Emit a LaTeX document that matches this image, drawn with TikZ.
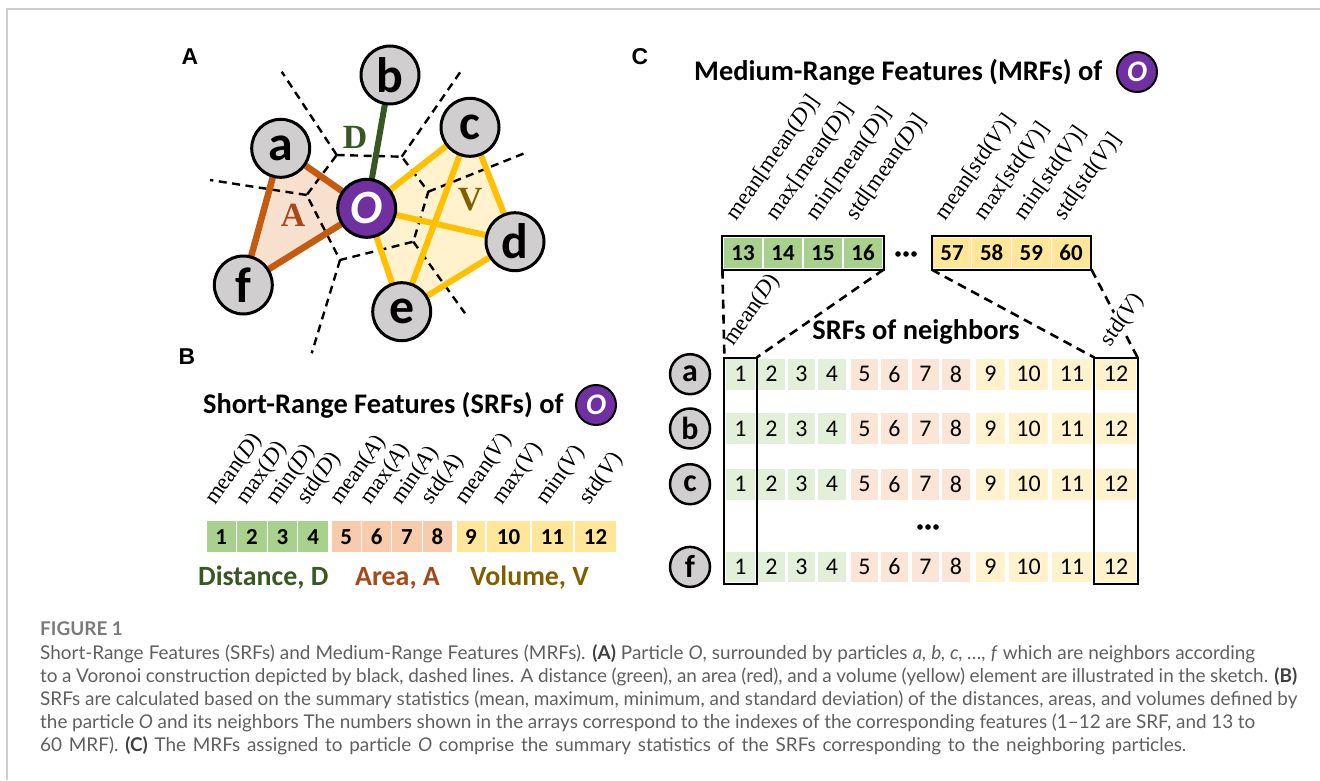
\documentclass[tikz,border=0pt]{standalone}
\usepackage{fontspec}
\setmainfont{Carlito}
\newfontfamily\lblfont{Liberation Serif}
\newfontfamily\capfont{Lato}
\newfontfamily\panelfont{Liberation Sans}
\pgfdeclarelayer{bg}
\pgfsetlayers{bg,main}

\definecolor{partgray}{HTML}{D0CECE}
\definecolor{opurple}{HTML}{7030A0}
\definecolor{areaedge}{HTML}{C55A11}
\definecolor{areafill}{HTML}{F8E0CF}
\definecolor{voledge}{HTML}{FFC000}
\definecolor{volfill}{HTML}{FFF2CC}
\definecolor{distedge}{HTML}{385723}
\definecolor{dtext}{HTML}{385723}
\definecolor{atext}{HTML}{A5481B}
\definecolor{vtext}{HTML}{7F6000}
\definecolor{cG}{HTML}{A9D18E}
\definecolor{cP}{HTML}{F8CBAD}
\definecolor{cY}{HTML}{FFE699}
\definecolor{lG}{HTML}{E2F0D9}
\definecolor{lP}{HTML}{FBE5D6}
\definecolor{lY}{HTML}{FFF2CC}
\definecolor{capgray}{HTML}{5F5F5F}
\definecolor{capdark}{HTML}{404040}
\definecolor{figgray}{HTML}{7A7A7A}
\definecolor{framegray}{HTML}{CFCFCF}

\newcommand{\capb}[1]{{\color{capdark}\bfseries #1}}

\begin{document}
\begin{tikzpicture}[x=1bp,y=-1bp,
  particle/.style={circle,draw=black,line width=3bp,fill=partgray,minimum size=58bp,inner sep=0pt,font=\bfseries\fontsize{50}{50}\selectfont},
  centre/.style={particle,fill=opurple,text=white,font=\bfseries\itshape\fontsize{48}{48}\selectfont},
  smallO/.style={circle,draw=black,line width=2bp,fill=opurple,text=white,minimum size=40bp,inner sep=0pt,font=\bfseries\itshape\fontsize{30}{30}\selectfont},
  nbr/.style={circle,draw=black,line width=2.5bp,fill=partgray,minimum size=40bp,inner sep=0pt,font=\bfseries\fontsize{32}{32}\selectfont},
  cell/.style={rectangle,draw=white,line width=1.2bp,minimum height=32bp,inner sep=0pt,font=\bfseries\fontsize{23}{23}\selectfont},
  gcell/.style={cell,font=\fontsize{24}{24}\selectfont},
  flab/.style={anchor=base west,rotate=55,inner sep=0pt,font=\lblfont\fontsize{23}{23}\selectfont},
  ttl/.style={anchor=west,inner sep=0pt,font=\bfseries\fontsize{28.5}{28.5}\selectfont},
  panel/.style={inner sep=0pt,font=\panelfont\bfseries\fontsize{23}{23}\selectfont},
  sym/.style={inner sep=0pt,font=\lblfont\bfseries\fontsize{34}{34}\selectfont},
  vor/.style={line width=2.4bp,dash pattern=on 8bp off 5.5bp},
  link/.style={line width=2.6bp,dash pattern=on 9bp off 6bp},
  areaE/.style={areaedge,line width=6.5bp,line join=round},
  volE/.style={voledge,line width=6bp,line join=round},
  capline/.style={anchor=base west,inner sep=0pt,text=capgray,font=\capfont\fontsize{19}{19}\selectfont},
  outl/.style={draw=black,line width=2bp},
  legend/.style={anchor=west,inner sep=0pt,font=\bfseries\fontsize{28}{28}\selectfont}
]
\useasboundingbox (0,0) rectangle (1320,780);

% page frame
\draw[framegray,line width=1.5bp] (7,780) -- (7,9) -- (1320,9);

% ---------------- A: particle O and its Voronoi neighbours
\node[panel] (lA) at (190,57) {A};
\node[particle] (b) at (390,75) {b};
\node[particle] (a) at (280.7,148.3) {a};
\node[particle] (c) at (470,127.3) {c};
\node[particle] (d) at (515,241.7) {d};
\node[particle] (f) at (243.3,285) {f};
\node[particle] (e) at (401.7,311.7) {e};
\node[centre] (O) at (366.7,208.3) {O};

% Voronoi cell of O and its outgoing edges
\coordinate (v1) at (336.7,155);
\coordinate (v2) at (401.7,156.7);
\coordinate (v3) at (428.3,191.7);
\coordinate (v4) at (413.3,241.7);
\coordinate (v5) at (340,260);
\coordinate (v6) at (306.7,195);
\coordinate (r1) at (281.7,71.7);
\coordinate (r2) at (461.7,70);
\coordinate (r3) at (528.3,151.7);
\coordinate (r4) at (465,313.3);
\coordinate (r5) at (311.7,353.3);
\coordinate (r6) at (210,180);

\begin{pgfonlayer}{bg}
  \fill[areafill] (a.center) -- (O.center) -- (f.center) -- cycle;
  \fill[volfill] (O.center) -- (c.center) -- (d.center) -- (e.center) -- cycle;
  \draw[vor] (v1) -- (v2) -- (v3) -- (v4) -- (v5) -- (v6) -- cycle;
  \draw[vor] (v1) -- (r1) (v2) -- (r2) (v3) -- (r3) (v4) -- (r4) (v5) -- (r5) (v6) -- (r6);
  \draw[areaE] (a.center) -- (O.center) -- (f.center) -- cycle;
  \draw[volE] (O.center) -- (c.center) -- (d.center) -- (e.center) -- cycle;
  \draw[volE] (O.center) -- (d.center);
  \draw[volE] (c.center) -- (e.center);
  \draw[distedge,line width=6bp] (O.center) -- (b.center);
\end{pgfonlayer}

\node[sym,text=dtext] (symD) at (355,137) {D};
\node[sym,text=atext] (symA) at (293,215) {A};
\node[sym,text=vtext] (symV) at (470,200) {V};

% ---------------- B: short-range features
\node[panel] (lB) at (187,357) {B};
\node[ttl] (ttlB) at (203,405) {Short-Range Features (SRFs) of};
\node[smallO] (OB) at (596,405) {O};

\foreach \n/\x/\w/\col in {1/221.3/30.6/cG, 2/251.9/30.6/cG, 3/282.5/30.6/cG, 4/313.1/30.6/cG,
    5/346.2/30.4/cP, 6/376.6/30.4/cP, 7/407/30.4/cP, 8/437.5/30.4/cP,
    9/471/30/cY, 10/508.5/45/cY, 11/552.5/43/cY, 12/595.5/43/cY}
  \node[cell,fill=\col,minimum width=\w bp] (s\n) at (\x,536.7) {\n};

\foreach \n/\lab in {1/{mean(\textit{D})}, 2/{max(\textit{D})}, 3/{min(\textit{D})}, 4/{std(\textit{D})},
    5/{mean(\textit{A})}, 6/{max(\textit{A})}, 7/{min(\textit{A})}, 8/{std(\textit{A})},
    9/{mean(\textit{V})}, 10/{max(\textit{V})}, 11/{min(\textit{V})}, 12/{std(\textit{V})}}
  \node[flab] (sl\n) at ([xshift=-6bp,yshift=14bp]s\n.north) {\lab};

\node[legend,text=dtext] (legD) at (198,578) {Distance, D};
\node[legend,text=atext] (legA) at (355,578) {Area, A};
\node[legend,text=vtext] (legV) at (470,578) {Volume, V};

% ---------------- C: medium-range features
\node[panel] (lC) at (640,57) {C};
\node[ttl] (ttlC) at (694,72) {Medium-Range Features (MRFs) of};
\node[smallO] (OC) at (1137,72) {O};

\foreach \n/\x in {13/743,14/783,15/823,16/863}
  \node[cell,fill=cG,minimum width=40bp] (h\n) at (\x,253) {\n};
\foreach \n/\x in {57/952,58/991.7,59/1031.3,60/1071}
  \node[cell,fill=cY,minimum width=39.7bp] (h\n) at (\x,253) {\n};
\draw[outl] (h13.north west) rectangle (h16.south east);
\draw[outl] (h57.north west) rectangle (h60.south east);
\foreach \x in {898,906,914} \fill (\x,254) circle (2.8bp);

\foreach \n/\lab in {13/{mean[mean(\textit{D})]}, 14/{max[mean(\textit{D})]}, 15/{min[mean(\textit{D})]}, 16/{std[mean(\textit{D})]},
    57/{mean[std(\textit{V})]}, 58/{max[std(\textit{V})]}, 59/{min[std(\textit{V})]}, 60/{std[std(\textit{V})]}}
  \node[flab] (hl\n) at ([xshift=-7bp,yshift=15bp]h\n.north) {\lab};

% neighbour rows
\foreach \r/\y in {a/374.2,b/428.5,c/484.2,f/566.9} {
  \node[nbr] (n\r) at (690,\y) {\r};
  \foreach \cn/\x/\w/\col in {1/740.5/31/lG, 2/771.5/29/lG, 3/801.5/29/lG, 4/832/30/lG,
      5/864.5/29/lP, 6/894.5/29/lP, 7/925.5/29/lP, 8/956/30/lP,
      9/990.5/31/lY, 10/1028.5/41/lY, 11/1072/42/lY, 12/1116/42/lY}
    \node[gcell,fill=\col,minimum width=\w bp] (g\r\cn) at (\x,\y) {\cn};
}
\draw[outl] (ga1.north west) rectangle (gf1.south east);
\draw[outl] (ga12.north west) rectangle (gf12.south east);
\foreach \x in {920,928,936} \fill (\x,527) circle (2.8bp);

\draw[link] (h13.south west) -- (ga1.north west);
\draw[link] (h16.south east) -- (ga1.north east);
\draw[link] (h57.south west) -- (ga12.north west);
\draw[link] (h60.south east) -- (ga12.north east);

\node[flab] (gmD) at (733,347) {mean(\textit{D})};
\node[flab,fill=white,inner sep=1bp] (gsV) at (1110,348) {std(\textit{V})};
\node[ttl,anchor=center] (ttlN) at (916,332) {SRFs of neighbors};

% ---------------- caption
\node[capline,text=figgray,font=\capfont\bfseries\fontsize{19}{19}\selectfont] (cap0) at (40,635) {FIGURE 1};
\node[capline] (cap1) at (40,659) {\makebox[1215bp][s]{Short-Range Features (SRFs) and Medium-Range Features (MRFs). \capb{(A)} Particle \textit{O}, surrounded by particles \textit{a, b, c, \dots, f} which are neighbors according}};
\node[capline] (cap2) at (40,682) {\makebox[1257bp][s]{to a Voronoi construction depicted by black, dashed lines. A distance (green), an area (red), and a volume (yellow) element are illustrated in the sketch. \capb{(B)}}};
\node[capline] (cap3) at (40,705) {\makebox[1257bp][s]{SRFs are calculated based on the summary statistics (mean, maximum, minimum, and standard deviation) of the distances, areas, and volumes defined by}};
\node[capline] (cap4) at (40,728) {\makebox[1215bp][s]{the particle \textit{O} and its neighbors The numbers shown in the arrays correspond to the indexes of the corresponding features (1–12 are SRF, and 13 to}};
\node[capline] (cap5) at (40,751) {\makebox[1146bp][s]{60 MRF). \capb{(C)} The MRFs assigned to particle \textit{O} comprise the summary statistics of the SRFs corresponding to the neighboring particles.}};
\end{tikzpicture}
\end{document}
